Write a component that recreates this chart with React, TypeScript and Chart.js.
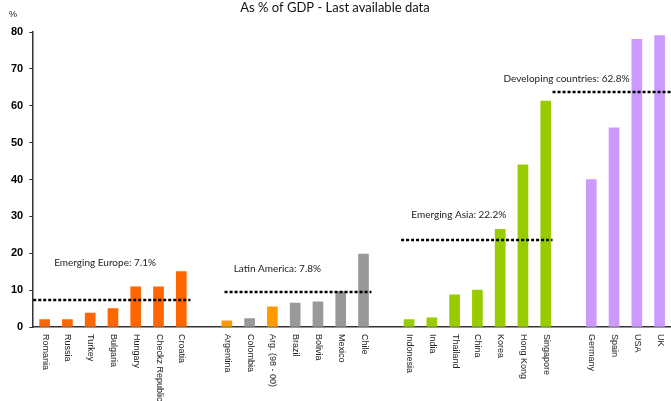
import React, { useEffect, useRef } from "react";
import { Chart, registerables } from "chart.js";

Chart.register(...registerables);

const categories = [
  "Romania", "Russia", "Turkey", "Bulgaria", "Hungary", "Checkz Republic", "Croatia", "",
  "Argentina", "Colombia", "Arg. (98 - 00)", "Brazil", "Bolivia", "Mexico", "Chile", "",
  "Indonesia", "India", "Thailand", "China", "Korea", "Hong Kong", "Singapore", "",
  "Germany", "Spain", "USA", "UK",
];
const values = [
  2, 2, 3.8, 5, 10.9, 10.9, 15, null,
  1.7, 2.3, 5.5, 6.5, 6.8, 9.6, 19.8, null,
  2, 2.5, 8.7, 10, 26.5, 44, 61.3, null,
  40, 54, 78, 79,
];
const barColors = [
  "#FF6600", "#FF6600", "#FF6600", "#FF6600", "#FF6600", "#FF6600", "#FF6600", "#FFFFFF",
  "#FF9900", "#999999", "#FF9900", "#999999", "#999999", "#999999", "#999999", "#FFFFFF",
  "#99CC00", "#99CC00", "#99CC00", "#99CC00", "#99CC00", "#99CC00", "#99CC00", "#FFFFFF",
  "#CC99FF", "#CC99FF", "#CC99FF", "#CC99FF",
];
const yTicks = [0, 10, 20, 30, 40, 50, 60, 70, 80];

// group averages
const avgLabels = ["Emerging Europe: 7.1%", "Latin America: 7.8%", "Emerging Asia: 22.2%", "Developing countries: 62.8%"];
const avgLevels = [7.4, 9.5, 23.6, 63.7];
const avgStartIdx = [-0.5, 7.9, 15.65, 22.3];
const avgEndIdx = [6.4, 14.35, 22.3, 27.5];
const avgLabelIdx = [0.42, 8.3, 16.1, 20.15];
const avgLabelLevel = [17.3, 15.8, 30.4, 67.3];

const TEXT_FONT = "Lato, 'Open Sans', sans-serif";

export default function App() {
  const ref = useRef<HTMLCanvasElement | null>(null);
  useEffect(() => {
    if (!ref.current) return;
    const overlay = {
      id: "overlay",
      afterDatasetsDraw(chart: any) {
        const ctx = chart.ctx as CanvasRenderingContext2D;
        const x = chart.scales.x;
        const y = chart.scales.y;
        const step = x.getPixelForValue(1) - x.getPixelForValue(0);
        const px = (i: number) => x.getPixelForValue(0) + step * i;
        ctx.save();
        // averages
        ctx.strokeStyle = "#000";
        ctx.lineWidth = 2.5;
        ctx.setLineDash([3, 2]);
        for (let i = 0; i < avgLevels.length; i++) {
          const yy = Math.round(y.getPixelForValue(avgLevels[i]));
          ctx.beginPath();
          ctx.moveTo(px(avgStartIdx[i]), yy);
          ctx.lineTo(px(avgEndIdx[i]), yy);
          ctx.stroke();
        }
        ctx.setLineDash([]);
        ctx.fillStyle = "#222";
        ctx.font = "10px " + TEXT_FONT;
        ctx.textAlign = "left";
        ctx.textBaseline = "middle";
        for (let i = 0; i < avgLabels.length; i++) {
          ctx.fillText(avgLabels[i], px(avgLabelIdx[i]), y.getPixelForValue(avgLabelLevel[i]));
        }
        // x labels rotated clockwise
        ctx.font = "9px 'Liberation Sans', Arial, sans-serif";
        ctx.fillStyle = "#222";
        ctx.textAlign = "left";
        ctx.textBaseline = "middle";
        for (let i = 0; i < categories.length; i++) {
          if (!categories[i]) continue;
          ctx.save();
          ctx.translate(x.getPixelForValue(i) + 0.5, y.bottom + 7);
          ctx.rotate(Math.PI / 2);
          ctx.fillText(categories[i], 0, 0);
          ctx.restore();
        }
        // title and unit
        ctx.font = "13px " + TEXT_FONT;
        ctx.fillStyle = "#111";
        ctx.textAlign = "center";
        ctx.textBaseline = "middle";
        ctx.fillText("As % of GDP - Last available data", 335, 8);
        ctx.font = "9px 'Liberation Sans', Arial, sans-serif";
        ctx.textAlign = "left";
        ctx.fillText("%", 9, 15);
        ctx.restore();
      },
    };
    const chart = new Chart(ref.current, {
      type: "bar",
      data: {
        labels: categories,
        datasets: [
          {
            data: values as any,
            backgroundColor: barColors,
            barThickness: 10,
          },
        ],
      },
      options: {
        animation: false,
        responsive: false,
        layout: { padding: { top: 32, bottom: 74, left: 5, right: 0 } },
        plugins: { legend: { display: false }, tooltip: { enabled: false }, title: { display: false } },
        scales: {
          x: {
            offset: true,
            grid: { display: false, drawTicks: false },
            ticks: { display: false },
            border: { display: true, color: "#333", width: 1.5 },
          },
          y: {
            min: 0,
            max: 80,
            afterBuildTicks: (axis: any) => {
              axis.ticks = yTicks.map((v) => ({ value: v }));
            },
            grid: { display: true, drawOnChartArea: false, drawTicks: true, tickLength: 4, color: "#333" },
            border: { display: true, color: "#333", width: 1.5 },
            ticks: {
              padding: 6,
              color: "#000",
              font: { family: "'Liberation Sans', Arial, sans-serif", size: 11, weight: "bold" },
            },
          },
        },
      },
      plugins: [overlay],
    } as any);
    return () => chart.destroy();
  }, []);
  return (
    <div style={{ position: "fixed", left: 0, top: 0, width: 671, height: 401, background: "#fff" }}>
      <canvas ref={ref} width={671} height={401} style={{ width: 671, height: 401 }} />
    </div>
  );
}
